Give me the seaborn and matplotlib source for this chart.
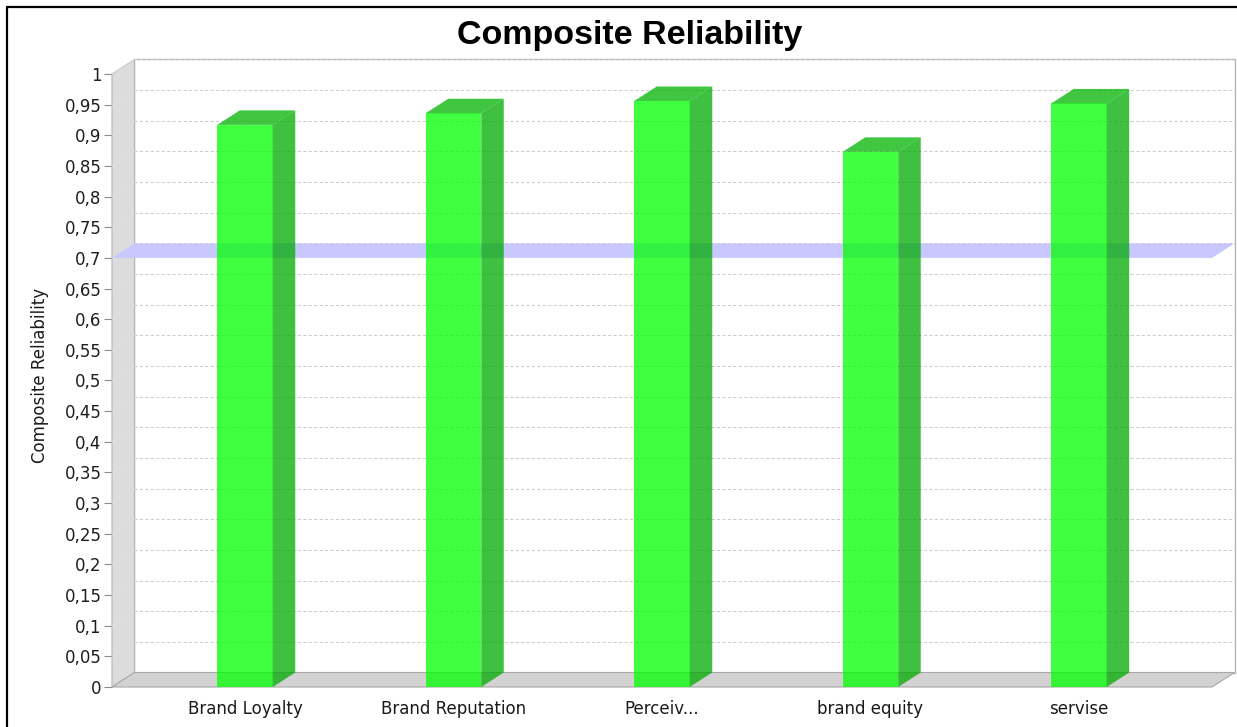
import matplotlib
matplotlib.use("Agg")
import matplotlib.pyplot as plt
from matplotlib.patches import Polygon
from matplotlib.lines import Line2D
import numpy as np
import pandas as pd
import seaborn as sns

# ---- data -------------------------------------------------------------
categories = ["Brand Loyalty", "Brand Reputation", "Perceiv...", "brand equity", "servise"]
reliability = [0.917, 0.936, 0.956, 0.873, 0.952]
threshold = 0.7
y_ticks = [round(0.05 * i, 2) for i in range(21)]
y_tick_labels = ["0", "0,05", "0,1", "0,15", "0,2", "0,25", "0,3", "0,35", "0,4", "0,45",
                 "0,5", "0,55", "0,6", "0,65", "0,7", "0,75", "0,8", "0,85", "0,9", "0,95", "1"]
title = "Composite Reliability"
y_label = "Composite Reliability"

# ---- figure -----------------------------------------------------------
sns.set_style("white")
plt.rcParams["font.family"] = ["DejaVu Sans"]
plt.rcParams["text.color"] = "black"

W, H, DPI = 1237, 727, 100
fig = plt.figure(figsize=(W / DPI, H / DPI), dpi=DPI)
fig.patch.set_facecolor("white")

# front plane of the plot in pixels
left_px, right_px, top_px, bottom_px = 112, 1212, 74, 687
ax = fig.add_axes([left_px / W, 1 - bottom_px / H,
                   (right_px - left_px) / W, (bottom_px - top_px) / H])
ax.patch.set_alpha(0)

xmin, xmax = -0.638, 4.638
ax.set_xlim(xmin, xmax)
ax.set_ylim(0, 1)

# depth of the pseudo-3D view, converted into data units
depth_x_px, depth_y_px = 22.5, 14.5
dx = depth_x_px * (xmax - xmin) / (right_px - left_px)
dy = depth_y_px / (bottom_px - top_px)

wall_grey = "#dcdcdc"
floor_grey = "#d2d2d2"
edge_grey = "#b4b4b4"

# back wall
ax.add_patch(Polygon([(xmin + dx, dy), (xmax + dx, dy), (xmax + dx, 1 + dy), (xmin + dx, 1 + dy)],
                     closed=True, facecolor="white", edgecolor=edge_grey, lw=1.0,
                     clip_on=False, zorder=0.5))
# left wall
ax.add_patch(Polygon([(xmin, 0), (xmin, 1), (xmin + dx, 1 + dy), (xmin + dx, dy)],
                     closed=True, facecolor=wall_grey, edgecolor=edge_grey, lw=0.8,
                     clip_on=False, zorder=0.6))
# floor
ax.add_patch(Polygon([(xmin, 0), (xmax, 0), (xmax + dx, dy), (xmin + dx, dy)],
                     closed=True, facecolor=floor_grey, edgecolor="#a8a8a8", lw=0.8,
                     clip_on=False, zorder=0.6))

# gridlines on the back wall and their faint traces on the side wall
for v in y_ticks[1:]:
    ax.add_line(Line2D([xmin + dx, xmax + dx], [v + dy, v + dy], color="#cacaca",
                       lw=0.7, dashes=(3.2, 2.4), clip_on=False, zorder=0.7))
    ax.add_line(Line2D([xmin, xmin + dx], [v, v + dy], color="#e2e2e2",
                       lw=0.5, clip_on=False, zorder=0.7))

# threshold plane
ax.add_patch(Polygon([(xmin, threshold), (xmax, threshold),
                      (xmax + dx, threshold + dy), (xmin + dx, threshold + dy)],
                     closed=True, facecolor="#c8c8ff", edgecolor="none",
                     clip_on=False, zorder=1))

# bars: front faces through seaborn
df = pd.DataFrame({"construct": categories, "value": reliability})
bar_width = 55.5 / ((right_px - left_px) / (xmax - xmin))
sns.barplot(data=df, x="construct", y="value", ax=ax, color="#00ff00", saturation=1,
            width=bar_width, alpha=0.75, linewidth=0, zorder=2)
ax.set_xlim(xmin, xmax)
ax.set_ylim(0, 1)

side_color = (0.0, 0.67, 0.0, 0.75)
top_color = (0.0, 0.70, 0.0, 0.75)
for p in list(ax.patches):
    if not hasattr(p, "get_width") or p.get_facecolor()[1] < 0.99:
        continue
    x0 = p.get_x()
    w = p.get_width()
    h = p.get_height()
    x1 = x0 + w
    ax.add_patch(Polygon([(x1, 0), (x1, h), (x1 + dx, h + dy), (x1 + dx, dy)],
                         closed=True, facecolor=side_color, edgecolor="none",
                         clip_on=False, zorder=2))
    ax.add_patch(Polygon([(x0, h), (x1, h), (x1 + dx, h + dy), (x0 + dx, h + dy)],
                         closed=True, facecolor=top_color, edgecolor="none",
                         clip_on=False, zorder=2))

# axes styling
for s in ax.spines.values():
    s.set_visible(False)
ax.set_yticks(y_ticks)
ax.set_yticklabels(y_tick_labels)
ax.tick_params(axis="y", length=5.5, width=0.8, color="#8c8c8c", pad=2,
               labelsize=12, labelcolor="#1e1e1e", left=True)
ax.set_xticks(range(len(categories)))
ax.set_xticklabels(categories)
ax.tick_params(axis="x", length=0, pad=9, labelsize=12, labelcolor="#1a1a1a")
ax.set_xlabel("")
ax.set_ylabel("")
ax.grid(False)

# titles
fig.text(630 / W, 1 - 44 / H, title, ha="center", va="baseline", color="black",
         fontsize=24.5, fontweight="bold", family=["Liberation Sans", "DejaVu Sans"])
fig.text(40 / W, 1 - 375 / H, y_label, ha="center", va="center", rotation=90,
         fontsize=12, color="#1a1a1a")

# outer frame
fig.add_artist(Line2D([7 / W, 7 / W], [0, 1 - 7 / H], transform=fig.transFigure,
                      color="black", lw=1.6))
fig.add_artist(Line2D([7 / W, 1], [1 - 7 / H, 1 - 7 / H], transform=fig.transFigure,
                      color="black", lw=1.6))

fig.savefig("out.png", dpi=DPI, facecolor="white")
